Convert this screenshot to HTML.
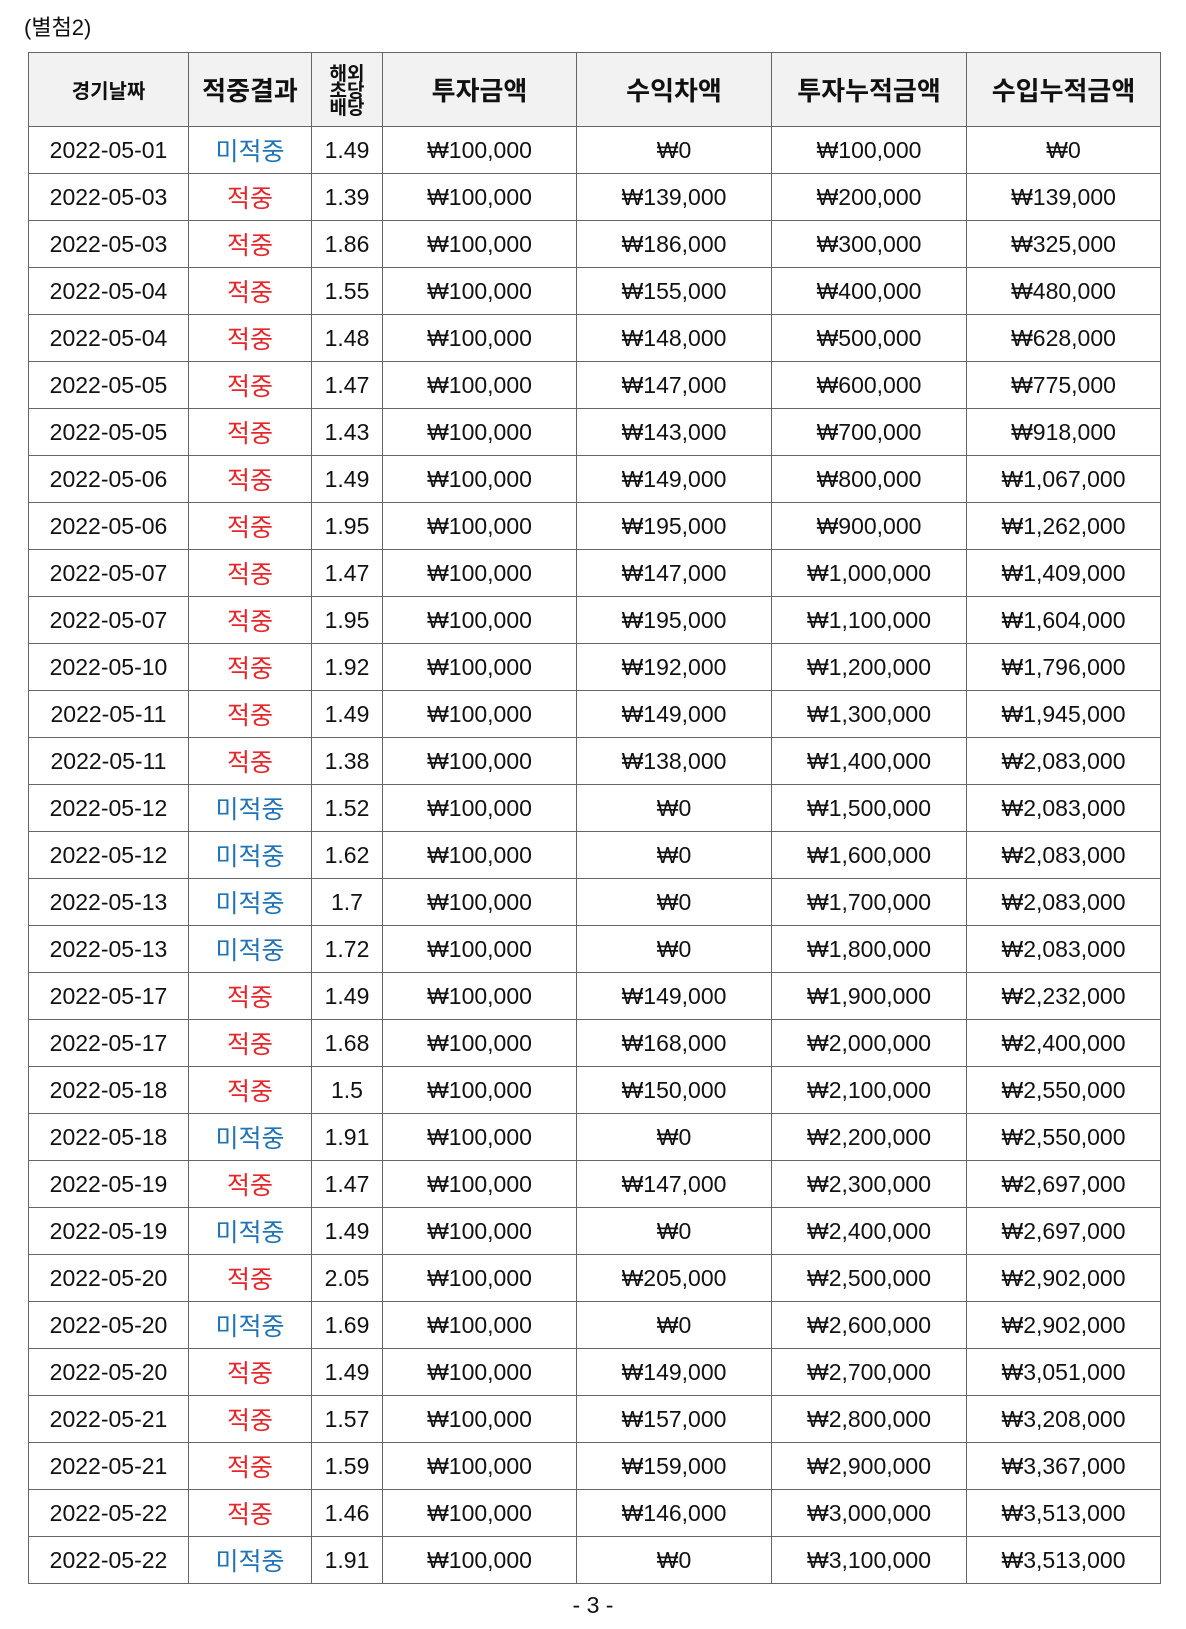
<!DOCTYPE html>
<html><head><meta charset="utf-8"><style>
body{margin:0;background:#fff;width:1186px;height:1629px;position:relative;font-family:"Liberation Sans","Noto Sans CJK KR",sans-serif;color:#111}
.t{position:absolute;left:28px;top:52px;border-collapse:collapse;table-layout:fixed}
td,th{border:1.5px solid #666;text-align:center;padding:0;font-size:23px;font-weight:normal;height:46px;white-space:nowrap}
th{background:#f2f2f2;font-weight:bold;height:73px;font-size:26px;font-family:"Noto Sans CJK KR",sans-serif}
th.s{font-size:20px}
th.v{font-size:19px;line-height:17px}
.b{color:#1f73b7;font-family:"Noto Sans CJK KR",sans-serif;font-size:25px}
.r{color:#e8262a;font-family:"Noto Sans CJK KR",sans-serif;font-size:25px}
.h{position:absolute;left:24px;top:10px;font-size:22px;font-family:"Liberation Sans","Noto Sans CJK KR",sans-serif}
.p{position:absolute;left:0;width:1186px;top:1592px;text-align:center;font-size:23px}
</style></head><body>
<div class="h">(별첨2)</div>
<table class="t">
<colgroup><col style="width:160px"><col style="width:123px"><col style="width:71px"><col style="width:194px"><col style="width:195px"><col style="width:195px"><col style="width:194px"></colgroup>
<tr><th class="s">경기날짜</th><th>적중결과</th><th class="v">해외<br>초당<br>배당</th><th>투자금액</th><th>수익차액</th><th>투자누적금액</th><th>수입누적금액</th></tr>
<tr><td>2022-05-01</td><td class="b">미적중</td><td>1.49</td><td>₩100,000</td><td>₩0</td><td>₩100,000</td><td>₩0</td></tr>
<tr><td>2022-05-03</td><td class="r">적중</td><td>1.39</td><td>₩100,000</td><td>₩139,000</td><td>₩200,000</td><td>₩139,000</td></tr>
<tr><td>2022-05-03</td><td class="r">적중</td><td>1.86</td><td>₩100,000</td><td>₩186,000</td><td>₩300,000</td><td>₩325,000</td></tr>
<tr><td>2022-05-04</td><td class="r">적중</td><td>1.55</td><td>₩100,000</td><td>₩155,000</td><td>₩400,000</td><td>₩480,000</td></tr>
<tr><td>2022-05-04</td><td class="r">적중</td><td>1.48</td><td>₩100,000</td><td>₩148,000</td><td>₩500,000</td><td>₩628,000</td></tr>
<tr><td>2022-05-05</td><td class="r">적중</td><td>1.47</td><td>₩100,000</td><td>₩147,000</td><td>₩600,000</td><td>₩775,000</td></tr>
<tr><td>2022-05-05</td><td class="r">적중</td><td>1.43</td><td>₩100,000</td><td>₩143,000</td><td>₩700,000</td><td>₩918,000</td></tr>
<tr><td>2022-05-06</td><td class="r">적중</td><td>1.49</td><td>₩100,000</td><td>₩149,000</td><td>₩800,000</td><td>₩1,067,000</td></tr>
<tr><td>2022-05-06</td><td class="r">적중</td><td>1.95</td><td>₩100,000</td><td>₩195,000</td><td>₩900,000</td><td>₩1,262,000</td></tr>
<tr><td>2022-05-07</td><td class="r">적중</td><td>1.47</td><td>₩100,000</td><td>₩147,000</td><td>₩1,000,000</td><td>₩1,409,000</td></tr>
<tr><td>2022-05-07</td><td class="r">적중</td><td>1.95</td><td>₩100,000</td><td>₩195,000</td><td>₩1,100,000</td><td>₩1,604,000</td></tr>
<tr><td>2022-05-10</td><td class="r">적중</td><td>1.92</td><td>₩100,000</td><td>₩192,000</td><td>₩1,200,000</td><td>₩1,796,000</td></tr>
<tr><td>2022-05-11</td><td class="r">적중</td><td>1.49</td><td>₩100,000</td><td>₩149,000</td><td>₩1,300,000</td><td>₩1,945,000</td></tr>
<tr><td>2022-05-11</td><td class="r">적중</td><td>1.38</td><td>₩100,000</td><td>₩138,000</td><td>₩1,400,000</td><td>₩2,083,000</td></tr>
<tr><td>2022-05-12</td><td class="b">미적중</td><td>1.52</td><td>₩100,000</td><td>₩0</td><td>₩1,500,000</td><td>₩2,083,000</td></tr>
<tr><td>2022-05-12</td><td class="b">미적중</td><td>1.62</td><td>₩100,000</td><td>₩0</td><td>₩1,600,000</td><td>₩2,083,000</td></tr>
<tr><td>2022-05-13</td><td class="b">미적중</td><td>1.7</td><td>₩100,000</td><td>₩0</td><td>₩1,700,000</td><td>₩2,083,000</td></tr>
<tr><td>2022-05-13</td><td class="b">미적중</td><td>1.72</td><td>₩100,000</td><td>₩0</td><td>₩1,800,000</td><td>₩2,083,000</td></tr>
<tr><td>2022-05-17</td><td class="r">적중</td><td>1.49</td><td>₩100,000</td><td>₩149,000</td><td>₩1,900,000</td><td>₩2,232,000</td></tr>
<tr><td>2022-05-17</td><td class="r">적중</td><td>1.68</td><td>₩100,000</td><td>₩168,000</td><td>₩2,000,000</td><td>₩2,400,000</td></tr>
<tr><td>2022-05-18</td><td class="r">적중</td><td>1.5</td><td>₩100,000</td><td>₩150,000</td><td>₩2,100,000</td><td>₩2,550,000</td></tr>
<tr><td>2022-05-18</td><td class="b">미적중</td><td>1.91</td><td>₩100,000</td><td>₩0</td><td>₩2,200,000</td><td>₩2,550,000</td></tr>
<tr><td>2022-05-19</td><td class="r">적중</td><td>1.47</td><td>₩100,000</td><td>₩147,000</td><td>₩2,300,000</td><td>₩2,697,000</td></tr>
<tr><td>2022-05-19</td><td class="b">미적중</td><td>1.49</td><td>₩100,000</td><td>₩0</td><td>₩2,400,000</td><td>₩2,697,000</td></tr>
<tr><td>2022-05-20</td><td class="r">적중</td><td>2.05</td><td>₩100,000</td><td>₩205,000</td><td>₩2,500,000</td><td>₩2,902,000</td></tr>
<tr><td>2022-05-20</td><td class="b">미적중</td><td>1.69</td><td>₩100,000</td><td>₩0</td><td>₩2,600,000</td><td>₩2,902,000</td></tr>
<tr><td>2022-05-20</td><td class="r">적중</td><td>1.49</td><td>₩100,000</td><td>₩149,000</td><td>₩2,700,000</td><td>₩3,051,000</td></tr>
<tr><td>2022-05-21</td><td class="r">적중</td><td>1.57</td><td>₩100,000</td><td>₩157,000</td><td>₩2,800,000</td><td>₩3,208,000</td></tr>
<tr><td>2022-05-21</td><td class="r">적중</td><td>1.59</td><td>₩100,000</td><td>₩159,000</td><td>₩2,900,000</td><td>₩3,367,000</td></tr>
<tr><td>2022-05-22</td><td class="r">적중</td><td>1.46</td><td>₩100,000</td><td>₩146,000</td><td>₩3,000,000</td><td>₩3,513,000</td></tr>
<tr><td>2022-05-22</td><td class="b">미적중</td><td>1.91</td><td>₩100,000</td><td>₩0</td><td>₩3,100,000</td><td>₩3,513,000</td></tr>
</table>
<div class="p">- 3 -</div>
</body></html>
